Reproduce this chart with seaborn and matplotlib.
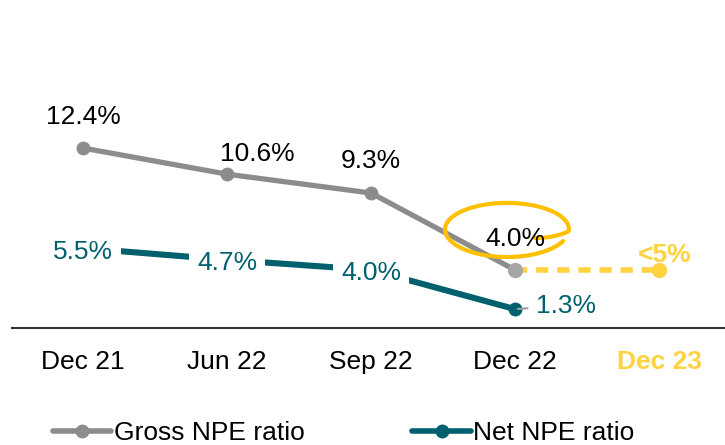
import numpy as np
import pandas as pd
import matplotlib
matplotlib.use("Agg")
import matplotlib.pyplot as plt
import seaborn as sns
from matplotlib.lines import Line2D

# ---- data -------------------------------------------------------------
periods = ["Dec 21", "Jun 22", "Sep 22", "Dec 22", "Dec 23"]
gross_npe = [12.4, 10.6, 9.3, 4.0]          # Dec 21 .. Dec 22
net_npe = [5.5, 4.7, 4.0, 1.3]              # Dec 21 .. Dec 22
target_path = [4.0, 4.0]                    # Dec 22 -> Dec 23 guidance line
target_label = "<5%"
gross_labels = ["12.4%", "10.6%", "9.3%", "4.0%"]
net_labels = ["5.5%", "4.7%", "4.0%", "1.3%"]

# ---- style ------------------------------------------------------------
GREY = "#8C8C8C"
GREY_LIGHT = "#A6A6A6"
TEAL = "#00606E"
GOLD = "#FFC000"
GOLD_LIGHT = "#FFD23F"

sns.set_theme(style="white")
plt.rcParams["font.family"] = ["Liberation Sans", "DejaVu Sans"]
plt.rcParams["text.color"] = "black"
plt.rcParams["xtick.color"] = "black"

fig = plt.figure(figsize=(7.25, 4.45), dpi=100)
ax = fig.add_axes([12 / 725, (445 - 328) / 445, 1 - 12 / 725, 328 / 445])

x_hist = np.arange(len(gross_npe))
df = pd.DataFrame({"x": np.concatenate([x_hist, x_hist]),
                   "value": gross_npe + net_npe,
                   "series": ["Gross NPE ratio"] * len(gross_npe) + ["Net NPE ratio"] * len(net_npe)})

sns.lineplot(data=df[df.series == "Gross NPE ratio"], x="x", y="value",
             color=GREY, linewidth=3.8, marker="o", markersize=10,
             markeredgewidth=0, legend=False, ax=ax, zorder=2)
sns.lineplot(data=df[df.series == "Net NPE ratio"], x="x", y="value",
             color=TEAL, linewidth=4.4, marker="o", markersize=10,
             markeredgewidth=0, legend=False, ax=ax, zorder=2)

# guidance towards Dec 23
x_target = [3, 4]
sns.lineplot(x=x_target, y=target_path, color=GOLD_LIGHT, linewidth=4,
             linestyle=(0, (2.2, 1.6)), ax=ax, zorder=1, legend=False)
ax.plot(x_target[1], target_path[1], "o", color=GOLD_LIGHT, markersize=11,
        markeredgewidth=0, zorder=3)
ax.plot(x_target[0], gross_npe[-1], "o", color=GREY_LIGHT, markersize=11,
        markeredgewidth=0, zorder=4)

ax.set_xlim(-0.493, 4.458)
ax.set_ylim(0, 22.6)

# ---- value labels -----------------------------------------------------
fs = 19
gross_offsets = [(0, 22), (22, 14.5), (0, 23), (0, 22.5)]
for xi, v, lab, (dx, dy) in zip(x_hist, gross_npe, gross_labels, gross_offsets):
    ax.annotate(lab, (xi, v), xytext=(dx, dy), textcoords="offset points",
                ha="center", va="center", fontsize=fs, color="black", zorder=6)

for xi, v, lab in zip(x_hist[:3], net_npe[:3], net_labels[:3]):
    ax.annotate(lab, (xi, v), xytext=(0, -2.5), textcoords="offset points",
                ha="center", va="center", fontsize=fs, color=TEAL, zorder=6,
                bbox=dict(boxstyle="square,pad=0.3", fc="white", ec="none"))

ax.annotate(net_labels[3], (x_hist[3], net_npe[3]), xytext=(37, 2.5),
            textcoords="offset points", ha="center", va="center",
            fontsize=fs, color=TEAL, zorder=6,
            arrowprops=dict(arrowstyle="-", color="#A0A0A0", lw=1.5,
                            shrinkA=4, shrinkB=2))

ax.annotate(target_label, (x_target[1], target_path[1]), xytext=(4, 11),
            textcoords="offset points", ha="center", va="center",
            fontsize=fs, color=GOLD_LIGHT, fontweight="bold", zorder=6)

# hand-drawn highlight loop around the Dec 22 gross value
theta = np.linspace(np.deg2rad(-35), np.deg2rad(335), 200)
grow = np.clip(0.55 + (theta - theta[0]) / 1.2, 0, 1.0)
cx, cy = 2.944, 6.80
rx = 0.43 * grow
ry = 1.82 * grow * np.where(np.sin(theta) < 0, 1.05, 1.0)
ax.plot(cx + rx * np.cos(theta), cy + ry * np.sin(theta),
        color=GOLD, linewidth=3, solid_capstyle="round", zorder=5)

# ---- axes -------------------------------------------------------------
ax.set_xticks(range(len(periods)))
ax.set_xticklabels(periods, fontsize=fs, color="black")
ticklabels = ax.get_xticklabels()
ticklabels[-1].set_color(GOLD_LIGHT)
ticklabels[-1].set_fontweight("bold")
ax.tick_params(axis="x", length=0, pad=16)
ax.set_yticks([])
ax.set_xlabel("")
ax.set_ylabel("")
for side in ["top", "right", "left"]:
    ax.spines[side].set_visible(False)
ax.spines["bottom"].set_color("#333333")
ax.spines["bottom"].set_linewidth(1.5)

# ---- legend -----------------------------------------------------------
handles = [Line2D([], [], color=GREY, lw=4, marker="o", markersize=10, markeredgewidth=0),
           Line2D([], [], color=TEAL, lw=4, marker="o", markersize=10, markeredgewidth=0)]
leg = fig.legend(handles, ["Gross NPE ratio", "Net NPE ratio"], loc="center",
                 bbox_to_anchor=(0.474, 11.5 / 445), ncol=2, frameon=False,
                 fontsize=fs, handlelength=2.2, handletextpad=0.1,
                 columnspacing=4.1, borderpad=0.0)
for t in leg.get_texts():
    t.set_color("black")

fig.savefig("out.png", dpi=100, facecolor="white")
